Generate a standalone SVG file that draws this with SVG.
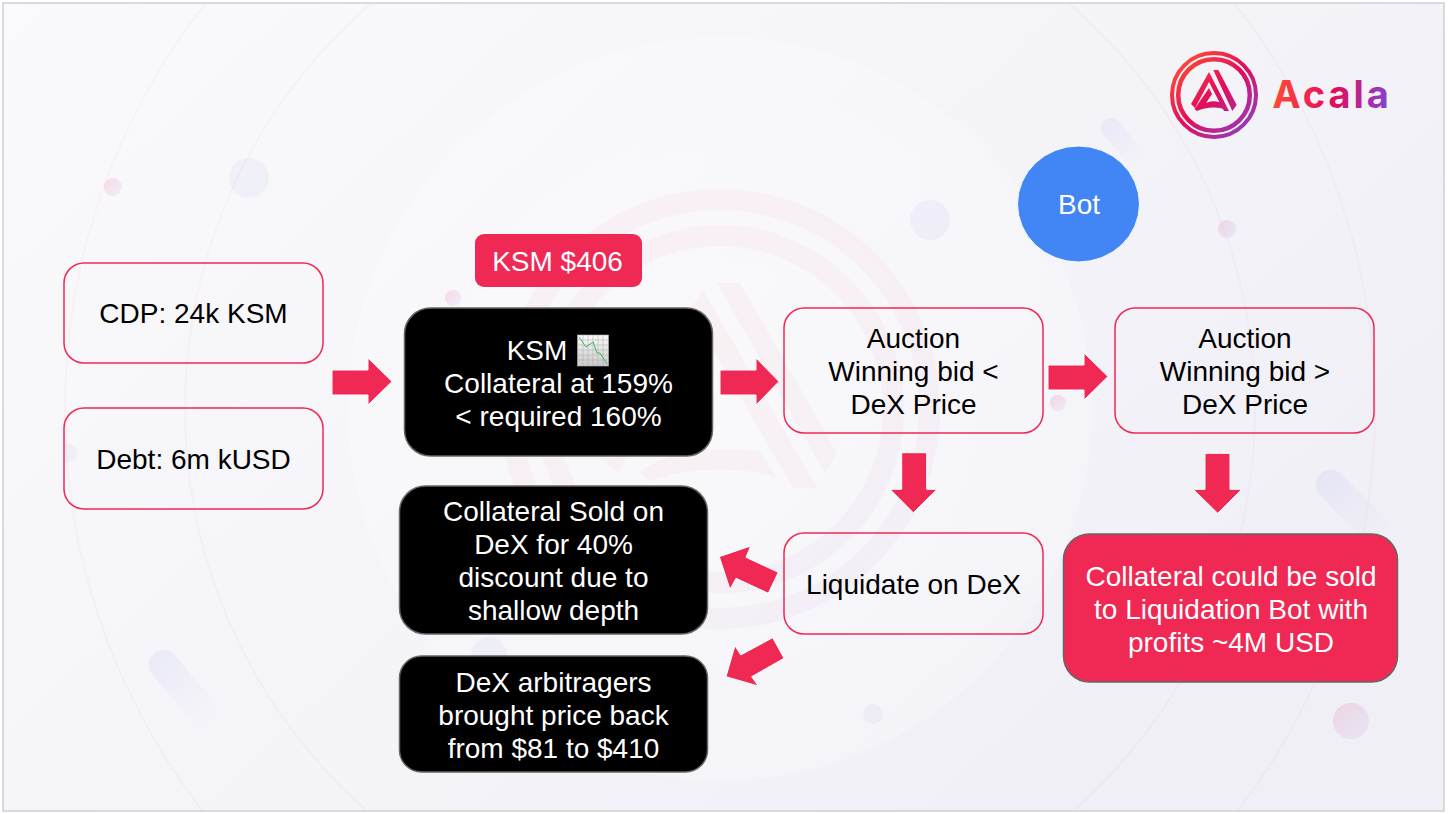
<svg xmlns="http://www.w3.org/2000/svg" width="1448" height="814" viewBox="0 0 1448 814">
<defs>
<linearGradient id="bg" x1="0" y1="0" x2="1" y2="0.6"><stop offset="0" stop-color="#fafafc"/><stop offset="1" stop-color="#f0eff6"/></linearGradient>
<linearGradient id="logo" gradientUnits="userSpaceOnUse" x1="1180" y1="58" x2="1248" y2="132"><stop offset="0" stop-color="#ff4e33"/><stop offset="0.5" stop-color="#e40c5b"/><stop offset="1" stop-color="#8e3fc0"/></linearGradient>
<linearGradient id="word" gradientUnits="userSpaceOnUse" x1="1272" y1="85" x2="1392" y2="105"><stop offset="0" stop-color="#ff4e33"/><stop offset="0.5" stop-color="#e40c5b"/><stop offset="1" stop-color="#7f46d8"/></linearGradient>
<linearGradient id="wm" gradientUnits="userSpaceOnUse" x1="520" y1="200" x2="920" y2="620"><stop offset="0" stop-color="#f12a55"/><stop offset="0.6" stop-color="#e0306a"/><stop offset="1" stop-color="#7f46d8"/></linearGradient>
<radialGradient id="disc" gradientUnits="userSpaceOnUse" cx="720" cy="409" r="372"><stop offset="0" stop-color="#fff" stop-opacity=".45"/><stop offset="1" stop-color="#fff" stop-opacity=".22"/></radialGradient>
<linearGradient id="pill" x1="0" y1="0" x2="0" y2="1"><stop offset="0" stop-color="#6a6ae0" stop-opacity=".08"/><stop offset="1" stop-color="#6a6ae0" stop-opacity="0"/></linearGradient>
<linearGradient id="dot" x1="0" y1="0" x2="1" y2="1"><stop offset="0" stop-color="#f12a55" stop-opacity=".15"/><stop offset="1" stop-color="#8a5ae0" stop-opacity=".07"/></linearGradient>
<linearGradient id="emoji" x1="0" y1="0" x2="0" y2="1"><stop offset="0" stop-color="#fbfbfb"/><stop offset="1" stop-color="#c9c9c9"/></linearGradient>
<style>
text{font-family:"Liberation Sans",Arial,sans-serif;font-size:28px;text-anchor:middle}
.lt rect{fill:none;stroke:#ef2854;stroke-width:1.500}
.lt text{fill:#000}
.dk .box{fill:#000;stroke:#666;stroke-width:1.500}
.dk text{fill:#fff}
.w text{fill:#fff}
.arr path{fill:#ef2854;stroke:#fff;stroke-width:1}
.rng{fill:none;stroke:url(#wm);stroke-opacity:.038;stroke-width:21}
.th{fill:none;stroke:#f12a55;stroke-opacity:.035;stroke-width:2}
.bl{fill:#6a6ae0;fill-opacity:.05}
.pk{fill:url(#dot)}
.pl{fill:url(#pill)}
</style>
</defs>
<g id="background">
<rect x="0" y="0" width="1448" height="814" fill="#fff"/>
<rect x="3" y="3" width="1441" height="808" fill="url(#bg)" stroke="#cfcfd3" stroke-width="1.500"/>
<circle cx="720" cy="409" r="372" fill="url(#disc)"/>
<clipPath id="inner"><rect x="4" y="4" width="1439" height="806"/></clipPath>
<g clip-path="url(#inner)">
<circle class="th" cx="720" cy="409" r="535"/>
<circle class="th" cx="720" cy="409" r="655"/>
</g>
<circle class="rng" cx="720" cy="409" r="173.500"/>
<circle class="rng" cx="720" cy="409" r="209.500"/>
<g fill="#f12a55" fill-opacity=".04">
<path d="M717 283L740 283L837 453L825 473Z"/>
<path d="M703 290L817 488L793 488L691 312L619 473L595 455Z"/>
<path d="M640 472C670 448 730 445 760 452L777 477C735 465 680 468 650 482Z"/>
</g>
<circle class="pk" cx="113" cy="187" r="9"/>
<circle class="bl" cx="249" cy="178" r="20"/>
<circle class="pk" cx="453" cy="298" r="8"/>
<circle class="bl" cx="930" cy="220" r="20"/>
<circle class="pk" cx="1227" cy="229" r="9"/>
<circle class="pk" cx="1058" cy="403" r="8"/>
<circle class="bl" cx="873" cy="714" r="10"/>
<circle class="pk" cx="1351" cy="721" r="18"/>
<circle class="bl" cx="489" cy="655" r="18"/>
<path class="bl" d="M64.500 443A13 10 0 0 1 64.500 463Z"/>
<rect class="pl" x="-10" y="-27" width="20" height="54" rx="10" transform="translate(1122 141) rotate(-40)"/>
<rect class="pl" x="-15" y="-45" width="30" height="90" rx="15" transform="translate(1352 506) rotate(-45)"/>
<rect class="pl" x="-15" y="-45" width="30" height="90" rx="15" transform="translate(183 688) rotate(-40)"/>
</g>
<g id="logo-acala">
<circle cx="1214" cy="95" r="42" fill="none" stroke="url(#logo)" stroke-width="4"/>
<circle cx="1214" cy="95" r="35.800" fill="none" stroke="url(#logo)" stroke-width="4.500"/>
<path d="M1213.300 70L1218.300 70L1236.700 105L1232.300 111ZM1209 72L1229 111L1224 111L1209 82L1195 108L1191 104ZM1209 88L1212 94L1206 103C1212 100 1219 101 1223 104L1226 110C1218 106 1205 107 1197 111L1194.500 109Z" fill="url(#logo)"/>
<text x="1332" y="108" style="font-family:Inter,'Liberation Sans',sans-serif;font-weight:700;font-size:38px;letter-spacing:3px" fill="url(#word)">Acala</text>
</g>
<g id="connectors" class="arr">
<path d="M332 370H368V358L392 381.500L368 405V395H332Z"/>
<path d="M720 370H756V358L779 381.500L756 405V395H720Z"/>
<path d="M1048 365H1084V353L1108 376.500L1084 400V390H1048Z"/>
<path d="M901.700 452.700H926.700V489.300H937L913.300 512.700L890 489.300H901.700Z"/>
<path d="M1205 453.300H1230V489.300H1241.700L1217.700 513.300L1193.300 489.300H1205Z"/>
<path d="M778.300 572.300L768.300 593.300L736 578.300L730 589.300L719.300 556.700L750.700 546L746 557.300Z"/>
<path d="M772.700 637.700L784 658.300L751.700 676.700L758.300 686L726 676.700L735 645.700L740.700 655Z"/>
</g>
<g id="cdp" class="lt"><rect x="64" y="263" width="259" height="100" rx="20"/><text x="193.500" y="323">CDP: 24k KSM</text></g>
<g id="debt" class="lt"><rect x="64" y="408" width="259" height="101" rx="20"/><text x="193.500" y="469">Debt: 6m kUSD</text></g>
<g id="price" class="w"><rect x="475" y="234" width="167" height="53" rx="9" fill="#ef2854"/><text x="557.500" y="271">KSM $406</text></g>
<g id="ksm" class="dk"><rect class="box" x="404.500" y="308" width="308" height="148" rx="26"/>
<text x="537" y="360">KSM</text>
<g id="chart-emoji"><rect x="577.500" y="335" width="31" height="31" fill="url(#emoji)" stroke="#b5b5b5" stroke-width=".6"/>
<path d="M583 335V366M588 335V366M593 335V366M598 335V366M603 335V366M577.500 340H608.500M577.500 345H608.500M577.500 350H608.500M577.500 355H608.500M577.500 360H608.500" stroke="#a8a8a8" stroke-width=".5" fill="none"/>
<path d="M579 337L586 347L593 342L597 353L600 353L607 364" stroke="#3fb55f" stroke-width="1" fill="none"/></g>
<text x="558.500" y="393">Collateral at 159%</text><text x="558.500" y="426">&lt; required 160%</text></g>
<g id="auction-low" class="lt"><rect x="784" y="308" width="259" height="125" rx="20"/><text x="913.500" y="348">Auction</text><text x="913.500" y="381">Winning bid &lt;</text><text x="913.500" y="414">DeX Price</text></g>
<g id="auction-high" class="lt"><rect x="1115" y="308" width="259" height="125" rx="20"/><text x="1245" y="348">Auction</text><text x="1245" y="381">Winning bid &gt;</text><text x="1245" y="414">DeX Price</text></g>
<g id="bot" class="w"><ellipse cx="1078.500" cy="204" rx="61" ry="58" fill="#4285f4" stroke="#fff" stroke-width="1"/><text x="1079" y="214">Bot</text></g>
<g id="sold" class="dk"><rect class="box" x="399.500" y="486" width="308" height="148" rx="26"/><text x="553.500" y="521">Collateral Sold on</text><text x="553.500" y="554">DeX for 40%</text><text x="553.500" y="587">discount due to</text><text x="553.500" y="620">shallow depth</text></g>
<g id="arb" class="dk"><rect class="box" x="399.500" y="656" width="308" height="116" rx="22"/><text x="553.500" y="692">DeX arbitragers</text><text x="553.500" y="725">brought price back</text><text x="553.500" y="758">from $81 to $410</text></g>
<g id="liquidate" class="lt"><rect x="784" y="533" width="259" height="101" rx="20"/><text x="913.500" y="594">Liquidate on DeX</text></g>
<g id="profit" class="w"><rect x="1063.500" y="534" width="334" height="148" rx="26" fill="#ef2854" stroke="#666" stroke-width="1.500"/><text x="1231" y="586">Collateral could be sold</text><text x="1231" y="619">to Liquidation Bot with</text><text x="1231" y="652">profits ~4M USD</text></g>
</svg>
